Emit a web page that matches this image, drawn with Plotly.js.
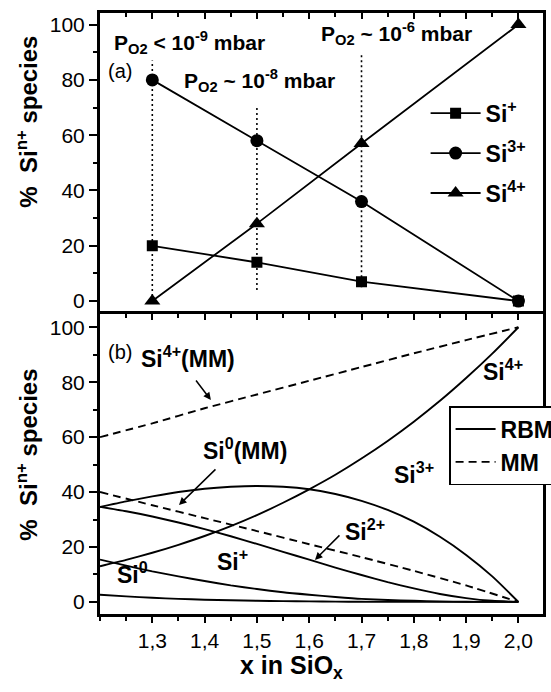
<!DOCTYPE html>
<html><head><meta charset="utf-8">
<script src="https://cdn.plot.ly/plotly-3.0.1.min.js"></script>
<style>html,body{margin:0;padding:0;background:#fff}</style>
</head><body><div id="chart" style="width:551px;height:692px"></div>
<script>
// Panel (a): experimental fractions
const expX = [1.3, 1.5, 1.7, 2.0];
const expSi1 = [20, 14, 7, 0];
const expSi3 = [80, 58, 36, 0];
const expSi4 = [0, 28, 57, 100];
// dotted guide lines in panel (a)
const guideX = [1.3, 1.5, 1.7];
const guideLow = [0, 4, 5];
const guideHigh = [87, 70, 89];

// Panel (b): model curves
const rbmX = [1.2,1.25,1.3,1.35,1.4,1.45,1.5,1.55,1.6,1.65,1.7,1.75,1.8,1.85,1.9,1.95,2.0];
const rbmSi0 = [2.6,2.0,1.5,1.1,0.8,0.6,0.4,0.3,0.2,0.1,0.05,0,0,0,0,0,0];
const rbmSi1 = [15.4,13.2,11.1,9.3,7.6,6.0,4.7,3.5,2.6,1.8,1.1,0.7,0.4,0.2,0.05,0,0];
const rbmSi2 = [34.6,33.0,31.1,28.9,26.5,23.9,21.1,18.2,15.4,12.5,9.8,7.2,4.9,2.9,1.4,0.4,0];
const rbmSi3 = [34.6,36.6,38.4,40.0,41.2,41.9,42.2,41.9,41.0,39.3,36.8,33.5,29.2,23.7,17.1,9.3,0];
const rbmSi4 = [13.0,15.3,17.9,20.8,24.0,27.6,31.6,36.1,41.0,46.3,52.2,58.6,65.6,73.2,81.5,90.4,100];
const mmX = [1.2,1.3,1.4,1.5,1.6,1.7,1.8,1.9,2.0];
const mmSi4 = [60,65,70.5,75.5,80.5,85.5,90.5,95.3,100];
const mmSi0 = [40,35.2,30.5,25.8,21,16.3,11.3,6,0];

const xTicks = [1.3,1.4,1.5,1.6,1.7,1.8,1.9,2.0];
const yTicks = [0,20,40,60,80,100];

const FONT = 'Liberation Sans, Arial, sans-serif';
const blk = '#000';
const traces = [];

// guides
guideX.forEach((gx, i) => {
  traces.push({x:[gx,gx], y:[guideLow[i], guideHigh[i]], xaxis:'x2', yaxis:'y2', mode:'lines',
    line:{color:blk, width:1.6, dash:'2px,3px'}, showlegend:false, hoverinfo:'skip'});
});
const expSeries = [
  {name:'Si<sup>+</sup>', y:expSi1, sym:'square', size:11},
  {name:'Si<sup>3+</sup>', y:expSi3, sym:'circle', size:13},
  {name:'Si<sup>4+</sup>', y:expSi4, sym:'triangle-up', size:14}
];
expSeries.forEach((s, i) => {
  traces.push({x:expX, y:s.y, xaxis:'x2', yaxis:'y2', name:s.name, mode:'lines+markers',
    line:{color:blk, width:1.8}, marker:{symbol:s.sym, size:s.size, color:blk},
    legend:'legend', legendgroup:'g'+i});
});
const rbm = [rbmSi0, rbmSi1, rbmSi2, rbmSi3, rbmSi4];
rbm.forEach((ys, i) => {
  traces.push({x:rbmX, y:ys, xaxis:'x', yaxis:'y', name:'RBM', mode:'lines',
    line:{color:blk, width:1.9, shape:'spline', smoothing:0.6}, showlegend:i===0, legend:'legend2'});
});
[mmSi4, mmSi0].forEach((ys, i) => {
  traces.push({x:mmX, y:ys, xaxis:'x', yaxis:'y', name:'MM', mode:'lines',
    line:{color:blk, width:1.9, dash:'8px,5px', shape:'spline', smoothing:0.6}, showlegend:i===0, legend:'legend2'});
});

const tickFont = {family:FONT, size:21, color:blk};
const xCommon = {range:[1.2, 2.047], tickvals:xTicks, tickformat:'.1f', tickfont:tickFont,
  tickwidth:2, tickcolor:blk, showgrid:false, zeroline:false, fixedrange:true};
const yCommon = {tickvals:yTicks, tickfont:tickFont, ticks:'outside', ticklen:8, tickwidth:2, tickcolor:blk,
  minor:{dtick:10, tick0:0, ticks:'outside', ticklen:4, tickwidth:2, tickcolor:blk},
  showline:true, mirror:true, linewidth:3, linecolor:blk, showgrid:false, zeroline:false};

const annFont = {family:FONT, size:23, color:blk, weight:'bold'};
const pFont = {family:FONT, size:21, color:blk, weight:'bold'};
const titleFont = {family:FONT, size:24, color:blk, weight:'bold'};
const annotations = [
  // panel (a)
  {xref:'x2', yref:'y2', x:1.238, y:83.2, text:'(a)', showarrow:false, font:{family:FONT, size:20, color:blk}},
  {xref:'x2', yref:'y2', x:1.372, y:93.7, text:'P<sub>O2</sub> < 10<sup>-9</sup> mbar', showarrow:false, font:pFont},
  {xref:'x2', yref:'y2', x:1.504, y:79.9, text:'P<sub>O2</sub> ~ 10<sup>-8</sup> mbar', showarrow:false, font:pFont},
  {xref:'x2', yref:'y2', x:1.766, y:96.9, text:'P<sub>O2</sub> ~ 10<sup>-6</sup> mbar', showarrow:false, font:pFont},
  // panel (b)
  {xref:'x', yref:'y', x:1.238, y:90.9, text:'(b)', showarrow:false, font:{family:FONT, size:20, color:blk}},
  {xref:'x', yref:'y', x:1.368, y:89.1, text:'Si<sup>4+</sup>(MM)', showarrow:false, font:annFont},
  {xref:'x', yref:'y', x:1.477, y:55.6, text:'Si<sup>0</sup>(MM)', showarrow:false, font:annFont},
  {xref:'x', yref:'y', x:1.971, y:84.4, text:'Si<sup>4+</sup>', showarrow:false, font:annFont},
  {xref:'x', yref:'y', x:1.800, y:46.9, text:'Si<sup>3+</sup>', showarrow:false, font:annFont},
  {xref:'x', yref:'y', x:1.707, y:26.2, text:'Si<sup>2+</sup>', showarrow:false, font:annFont},
  {xref:'x', yref:'y', x:1.454, y:15.3, text:'Si<sup>+</sup>', showarrow:false, font:annFont},
  {xref:'x', yref:'y', x:1.262, y:10.5, text:'Si<sup>0</sup>', showarrow:false, font:annFont},
  // arrows
  {xref:'x', yref:'y', x:1.412, y:73.5, text:'', showarrow:true, ax:-16, ay:-21, arrowhead:2, arrowsize:1, arrowwidth:1.5, arrowcolor:blk, standoff:0},
  {xref:'x', yref:'y', x:1.351, y:35.3, text:'', showarrow:true, ax:38, ay:-37, arrowhead:2, arrowsize:1, arrowwidth:1.5, arrowcolor:blk, standoff:0},
  {xref:'x', yref:'y', x:1.611, y:15.3, text:'', showarrow:true, ax:26, ay:-26, arrowhead:2, arrowsize:1, arrowwidth:1.5, arrowcolor:blk, standoff:0},
  // axis titles
  {xref:'paper', yref:'paper', x:-0.165, y:0.819, xanchor:'center', yanchor:'middle', text:'%\u00a0 Si<sup>n+</sup> species', textangle:-90, showarrow:false, font:titleFont},
  {xref:'paper', yref:'paper', x:-0.165, y:0.265, xanchor:'center', yanchor:'middle', text:'%\u00a0 Si<sup>n+</sup> species', textangle:-90, showarrow:false, font:titleFont},
  {xref:'paper', yref:'paper', x:0.433, y:-0.088, xanchor:'center', yanchor:'middle', text:'x in SiO<sub>x</sub>', showarrow:false, font:{family:FONT, size:25, color:blk, weight:'bold'}}
];

const layout = {
  width:551, height:692,
  margin:{l:100, r:8, t:13, b:78, autoexpand:false},
  paper_bgcolor:'#fff', plot_bgcolor:'#fff',
  separators:',.',
  font:{family:FONT, color:blk},
  showlegend:true,
  xaxis:Object.assign({}, xCommon, {anchor:'y', domain:[0,1], ticks:'outside', ticklen:6,
    minor:{dtick:0.05, tick0:1.2, ticks:'outside', ticklen:4, tickwidth:2, tickcolor:blk},
    showline:true, linewidth:3, linecolor:blk, showticklabels:true}),
  xaxis3:Object.assign({}, xCommon, {anchor:'y', overlaying:'x', side:'top', ticks:'inside', ticklen:6,
    minor:{dtick:0.05, tick0:1.2, ticks:'inside', ticklen:4, tickwidth:2, tickcolor:blk},
    showline:true, linewidth:3, linecolor:blk, showticklabels:false}),
  xaxis2:Object.assign({}, xCommon, {anchor:'y2', domain:[0,1], side:'top', ticks:'inside', ticklen:6,
    minor:{dtick:0.05, tick0:1.2, ticks:'inside', ticklen:4, tickwidth:2, tickcolor:blk},
    showline:true, linewidth:3, linecolor:blk, showticklabels:false}),
  yaxis:Object.assign({}, yCommon, {domain:[0,0.5], anchor:'x', range:[-4.4, 105]}),
  yaxis2:Object.assign({}, yCommon, {domain:[0.5,1], anchor:'x2', range:[-4.5, 104.2]}),
  legend:{x:0.735, y:0.869, xanchor:'left', yanchor:'top', bgcolor:'rgba(0,0,0,0)', borderwidth:0,
    font:{family:FONT, size:23, color:blk, weight:'bold'}, tracegroupgap:7, itemwidth:50},
  legend2:{x:0.788, y:0.346, xanchor:'left', yanchor:'top', bgcolor:'#fff', bordercolor:blk, borderwidth:1.5,
    font:{family:FONT, size:23, color:blk, weight:'bold'}, tracegroupgap:0, itemwidth:40},
  annotations:annotations
};
// placeholder trace to activate the top axis of panel (b)
traces.push({x:[null], y:[null], xaxis:'x3', yaxis:'y', showlegend:false, hoverinfo:'skip'});

Plotly.newPlot('chart', traces, layout, {staticPlot:true, displayModeBar:false});
</script>
</body></html>
